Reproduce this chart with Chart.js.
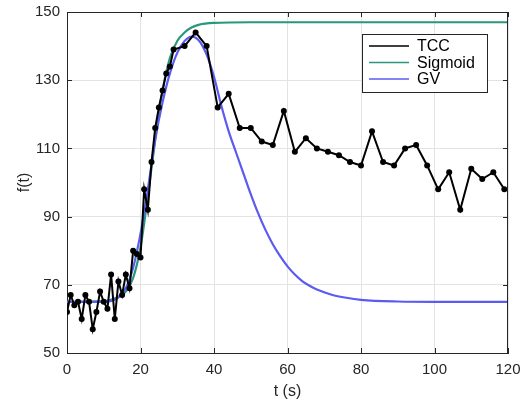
<!DOCTYPE html>
<html>
<head>
<meta charset="utf-8">
<script src="https://cdn.jsdelivr.net/npm/chart.js@4"></script>
<style>
  html, body { margin: 0; padding: 0; background: #fff; }
</style>
</head>
<body>
<canvas id="chart" width="520" height="406"></canvas>
<script>
// measured TCC samples
const tccT = [0, 1, 2, 3, 4, 5, 6, 7, 8, 9, 10, 11, 12, 13, 14, 15, 16, 17, 18, 19,
  20, 21, 22, 23, 24, 25, 26, 27, 28, 29, 32, 35, 38, 41, 44, 47, 50, 53, 56, 59,
  62, 65, 68, 71, 74, 77, 80, 83, 86, 89, 92, 95, 98, 101, 104, 107, 110, 113, 116, 119];
const tccY = [62, 67, 64, 65, 60, 67, 65, 57, 62, 68, 65, 63, 73, 60, 71, 67, 73, 69, 80, 79,
  78, 98, 92, 106, 116, 122, 127, 132, 134, 139, 140, 144, 140, 122, 126, 116, 116, 112, 111, 121,
  109, 113, 110, 109, 108, 106, 105, 115, 106, 105, 110, 111, 105, 98, 103, 92, 104, 101, 103, 98];

// sigmoid fit
const sigT = [0, 10, 14, 16, 18, 20, 22, 24, 26, 28, 30, 32, 34, 36, 40, 50, 60, 120];
const sigY = [65, 65.2, 66.5, 68, 72, 81, 96, 112.5, 127, 136.5, 141.5, 144, 145.5, 146.3, 146.8, 147, 147, 147];

// gamma variate fit
const gvT = [0, 10, 12, 14, 16, 18, 20, 22, 24, 26, 28, 30, 32, 34, 36, 38, 40, 42, 44, 46,
  48, 50, 52, 54, 56, 58, 60, 62, 64, 66, 68, 72, 76, 80, 90, 100, 120];
const gvY = [65, 65, 65.3, 66.3, 69, 75, 85, 98, 112.5, 123.5, 132, 138, 141.5, 142.8, 141.5, 137.5, 131, 122.5, 115, 108.8,
  102.7, 96.6, 91, 86.1, 81.9, 78.4, 75.4, 73, 71.1, 69.7, 68.6, 67.1, 66.2, 65.6, 65.1, 65, 65];

const xTicks = [0, 20, 40, 60, 80, 100, 120];
const yTicks = [50, 70, 90, 110, 130, 150];

const seriesNames = ['TCC', 'Sigmoid', 'GV'];
const seriesColors = ['#000000', '#28977d', '#5b5bf2'];

const pts = (xs, ys) => xs.map((x, i) => ({ x: x, y: ys[i] }));

const FONT = '"Liberation Sans", Arial, Helvetica, sans-serif';
const AXIS = '#262626';

// box, inward ticks and legend like the original figure
const framePlugin = {
  id: 'frame',
  afterDraw(chart) {
    const ctx = chart.ctx;
    const a = chart.chartArea;
    const xs = chart.scales.x, ys = chart.scales.y;
    ctx.save();
    ctx.strokeStyle = AXIS;
    ctx.lineWidth = 1;
    ctx.beginPath();
    ctx.moveTo(a.left, a.top + 0.5);
    ctx.lineTo(a.right, a.top + 0.5);
    ctx.moveTo(a.right - 0.5, a.top);
    ctx.lineTo(a.right - 0.5, a.bottom);
    xTicks.forEach(v => {
      const px = Math.round(xs.getPixelForValue(v)) + 0.5;
      ctx.moveTo(px, a.bottom); ctx.lineTo(px, a.bottom - 5);
      ctx.moveTo(px, a.top); ctx.lineTo(px, a.top + 5);
    });
    yTicks.forEach(v => {
      const py = Math.round(ys.getPixelForValue(v)) + 0.5;
      ctx.moveTo(a.left, py); ctx.lineTo(a.left + 5, py);
      ctx.moveTo(a.right, py); ctx.lineTo(a.right - 5, py);
    });
    ctx.stroke();

    // legend
    const lx = 362, ly = 34, lw = 125, lh = 58;
    ctx.fillStyle = '#fff';
    ctx.fillRect(lx, ly, lw, lh);
    ctx.strokeStyle = AXIS;
    ctx.strokeRect(lx + 0.5, ly + 0.5, lw, lh);
    ctx.font = '16px ' + FONT;
    ctx.textBaseline = 'middle';
    seriesNames.forEach((name, i) => {
      const y = ly + 12 + i * 16.5;
      ctx.strokeStyle = seriesColors[i];
      ctx.lineWidth = 1.5;
      ctx.beginPath();
      ctx.moveTo(369, y);
      ctx.lineTo(409, y);
      ctx.stroke();
      ctx.fillStyle = '#000';
      ctx.fillText(name, 417, y + 1);
    });
    ctx.restore();
  }
};

new Chart(document.getElementById('chart'), {
  type: 'line',
  data: {
    datasets: [{
      label: seriesNames[0],
      data: pts(tccT, tccY),
      borderColor: seriesColors[0],
      backgroundColor: seriesColors[0],
      borderWidth: 2,
      pointRadius: 3,
      pointBorderWidth: 0,
      tension: 0
    }, {
      label: seriesNames[2],
      data: pts(gvT, gvY),
      borderColor: seriesColors[2],
      borderWidth: 2.2,
      pointRadius: 0,
      cubicInterpolationMode: 'monotone'
    }, {
      label: seriesNames[1],
      data: pts(sigT, sigY),
      borderColor: seriesColors[1],
      borderWidth: 2.2,
      pointRadius: 0,
      cubicInterpolationMode: 'monotone'
    }]
  },
  options: {
    responsive: false,
    animation: false,
    devicePixelRatio: 1,
    layout: { padding: { top: 12, right: 12, left: 0, bottom: 0 } },
    plugins: {
      legend: { display: false },
      tooltip: { enabled: false }
    },
    scales: {
      x: {
        type: 'linear',
        min: 0,
        max: 120,
        afterBuildTicks: s => { s.ticks = xTicks.map(v => ({ value: v })); },
        afterFit: s => { s.height = 53; s.paddingLeft = 0; s.paddingRight = 0; },
        ticks: { color: AXIS, font: { family: FONT, size: 15 }, padding: 8, maxRotation: 0 },
        grid: { color: '#e3e3e3', drawTicks: false },
        border: { color: AXIS, width: 1 },
        title: { display: true, text: 't (s)', color: AXIS, font: { family: FONT, size: 16 }, padding: { top: 0, bottom: 5 } }
      },
      y: {
        min: 50,
        max: 150,
        afterBuildTicks: s => { s.ticks = yTicks.map(v => ({ value: v })); },
        afterFit: s => { s.width = 67; s.paddingTop = 0; s.paddingBottom = 0; },
        ticks: { color: AXIS, font: { family: FONT, size: 15 }, padding: 7 },
        grid: { color: '#e3e3e3', drawTicks: false },
        border: { color: AXIS, width: 1 },
        title: { display: true, text: 'f(t)', color: AXIS, font: { family: FONT, size: 16 }, padding: { top: 15, bottom: 0 } }
      }
    }
  },
  plugins: [framePlugin]
});
</script>
</body>
</html>
